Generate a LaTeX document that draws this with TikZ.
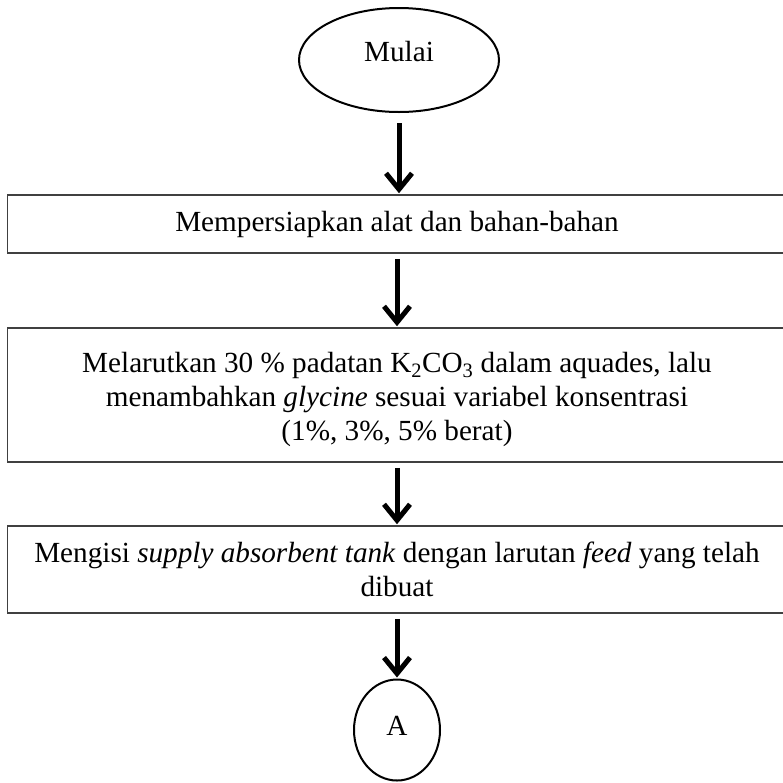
\documentclass[tikz,border=0pt]{standalone}
\usepackage{fontspec}
\setmainfont{Liberation Serif}
\usetikzlibrary{shapes.geometric,arrows.meta}

\tikzset{
  proses/.style={draw=black!75,line width=1.5pt,minimum width=779pt,align=center,inner sep=0pt},
  terminal/.style={draw,ellipse,line width=2pt,inner sep=0pt},
  panah/.style={line width=5pt,-{Straight Barb[length=16pt,width=26pt]},shorten <=5pt,shorten >=1pt}
}

\begin{document}
\begin{tikzpicture}[x=1pt,y=-1pt,font=\fontsize{29.2}{34}\selectfont]
\clip (0,0) rectangle (783,782);
\node[terminal,minimum width=200pt,minimum height=104pt] (mulai) at (399,60) {\raisebox{-1pt}[0pt][0pt]{Mulai}};
\node[proses,minimum height=58pt] (persiapan) at (397,224) {Mempersiapkan alat dan bahan-bahan};
\node[proses,minimum height=134pt,text height=98pt] (larutan) at (397,395)
  {Melarutkan 30 \% padatan K\textsubscript{2}CO\textsubscript{3} dalam aquades, lalu\\
   menambahkan \textit{glycine} sesuai variabel konsentrasi\\
   (1\%, 3\%, 5\% berat)};
\node[proses,minimum height=87pt] (isi) at (397,569.5)
  {Mengisi \textit{supply absorbent tank} dengan larutan \textit{feed} yang telah\\
   dibuat};
\node[terminal,minimum width=86pt,minimum height=101pt] (konektorA) at (397,730) {\raisebox{-5pt}[0pt][0pt]{A}};

\draw[panah,shorten <=10pt] (mulai) -- (mulai |- persiapan.north);
\draw[panah] (persiapan) -- (larutan);
\draw[panah] (larutan) -- (isi);
\draw[panah] (isi) -- (konektorA);
\end{tikzpicture}
\end{document}
